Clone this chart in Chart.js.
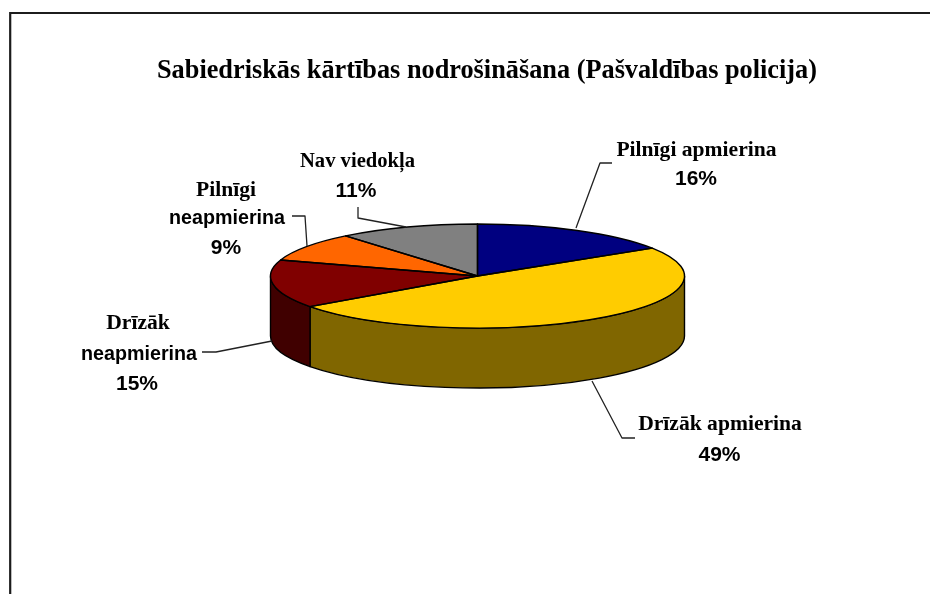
<!DOCTYPE html>
<html>
<head>
<meta charset="utf-8">
<style>
  html, body { margin: 0; padding: 0; background: #fff; overflow: hidden; }
  canvas { display: block; filter: blur(0.45px); }
</style>
<script src="https://cdn.jsdelivr.net/npm/chart.js@4"></script>
</head>
<body>
<canvas id="pie" width="930" height="594"></canvas>
<script>
const titleText = 'Sabiedriskās kārtības nodrošināšana (Pašvaldības policija)';
const categories = ['Pilnīgi apmierina', 'Drīzāk apmierina', 'Drīzāk neapmierina', 'Pilnīgi neapmierina', 'Nav viedokļa'];
const values = [16, 49, 15, 9, 11];
const topColors = ['#000080', '#FFCC00', '#800000', '#FF6600', '#808080'];
const sideColors = ['#000040', '#806600', '#400000', '#803300', '#404040'];

// pie drawn flat by chart.js, then squashed to an ellipse
const pieX = 477.5, pieY = 276, pieRadius = 207, squash = 52 / 207, depth = 60;

const serif = 'bold 21.6px "Liberation Serif"';
const serifTight = 'bold 20.6px "Liberation Serif"';
const sans = 'bold 19.7px "Liberation Sans"';
const pct = 'bold 21px "Liberation Sans"';

// label rows: [part of category name, centre x, middle y, font]; percent row last
const callouts = [
    { rows: [['Pilnīgi apmierina', 696.5, 150, serif]], pct: [696, 179], line: [[612, 163], [600, 163], [576, 228]] },
    { rows: [['Drīzāk apmierina', 720, 424, serif]], pct: [719.5, 455], line: [[635, 438], [622, 438], [592, 381]] },
    { rows: [['Drīzāk', 138, 323, serif], ['neapmierina', 139, 355, sans]], pct: [137, 384], line: [[202, 352], [216, 352], [272, 341]] },
    { rows: [['Pilnīgi', 226, 190, serif], ['neapmierina', 227, 219, sans]], pct: [226, 248], line: [[292, 216], [305, 216], [307, 246]] },
    { rows: [['Nav viedokļa', 357.5, 162, serifTight]], pct: [356, 191], line: [[358, 207], [358, 218], [406, 227]] }
];

function ellipseWedge(ctx, arc) {
    ctx.moveTo(pieX, pieY);
    ctx.ellipse(pieX, pieY, pieRadius, pieRadius * squash, 0, arc.startAngle, arc.endAngle);
    ctx.closePath();
}

const pie3d = {
    id: 'pie3d',
    beforeDatasetsDraw(chart) {
        const ctx = chart.ctx;
        const arcs = chart.getDatasetMeta(0).data;
        const ry = pieRadius * squash;

        // frame of the original picture, runs off the right and bottom
        ctx.save();
        ctx.strokeStyle = '#1c1c1c';
        ctx.lineWidth = 2.2;
        ctx.beginPath();
        ctx.moveTo(10.2, 600);
        ctx.lineTo(10.2, 13);
        ctx.lineTo(940, 13);
        ctx.stroke();

        // rim: only the part of each slice facing the viewer
        ctx.lineWidth = 1.4;
        ctx.strokeStyle = '#000';
        ctx.lineJoin = 'round';
        arcs.forEach((arc, i) => {
            const a = Math.max(arc.startAngle, 0);
            const b = Math.min(arc.endAngle, Math.PI);
            if (b <= a) return;
            ctx.beginPath();
            ctx.ellipse(pieX, pieY, pieRadius, ry, 0, a, b);
            ctx.ellipse(pieX, pieY + depth, pieRadius, ry, 0, b, a, true);
            ctx.closePath();
            ctx.fillStyle = sideColors[i];
            ctx.fill();
            ctx.stroke();
        });
        ctx.restore();

        // flat arcs get squashed while chart.js draws them
        const c = arcs[0];
        ctx.save();
        ctx.translate(pieX, pieY);
        ctx.scale(1, squash);
        ctx.translate(-c.x, -c.y);
    },
    afterDatasetsDraw(chart) {
        const ctx = chart.ctx;
        const arcs = chart.getDatasetMeta(0).data;
        ctx.restore();

        ctx.save();
        ctx.strokeStyle = '#000';
        ctx.lineWidth = 1.4;
        ctx.lineJoin = 'round';
        arcs.forEach(arc => {
            ctx.beginPath();
            ellipseWedge(ctx, arc);
            ctx.stroke();
        });

        ctx.strokeStyle = '#222';
        ctx.lineWidth = 1.3;
        ctx.fillStyle = '#000';
        ctx.textAlign = 'center';
        ctx.textBaseline = 'middle';
        callouts.forEach((item, i) => {
            ctx.beginPath();
            item.line.forEach((p, n) => n ? ctx.lineTo(p[0], p[1]) : ctx.moveTo(p[0], p[1]));
            ctx.stroke();
            item.rows.forEach(r => {
                ctx.font = r[3];
                ctx.fillText(r[0], r[1], r[2]);
            });
            ctx.font = pct;
            ctx.fillText(values[i] + '%', item.pct[0], item.pct[1]);
        });
        ctx.restore();
    }
};

new Chart(document.getElementById('pie'), {
    type: 'pie',
    data: {
        labels: categories,
        datasets: [{
            data: values,
            backgroundColor: topColors,
            borderWidth: 0
        }]
    },
    options: {
        responsive: false,
        animation: false,
        radius: pieRadius,
        layout: { padding: { left: 44, top: 55 } },
        plugins: {
            legend: { display: false },
            tooltip: { enabled: false },
            title: {
                display: true,
                text: titleText,
                color: '#000',
                font: { family: '"Liberation Serif"', size: 26.3, weight: 'bold' },
                padding: 0
            }
        }
    },
    plugins: [pie3d]
});
</script>
</body>
</html>
